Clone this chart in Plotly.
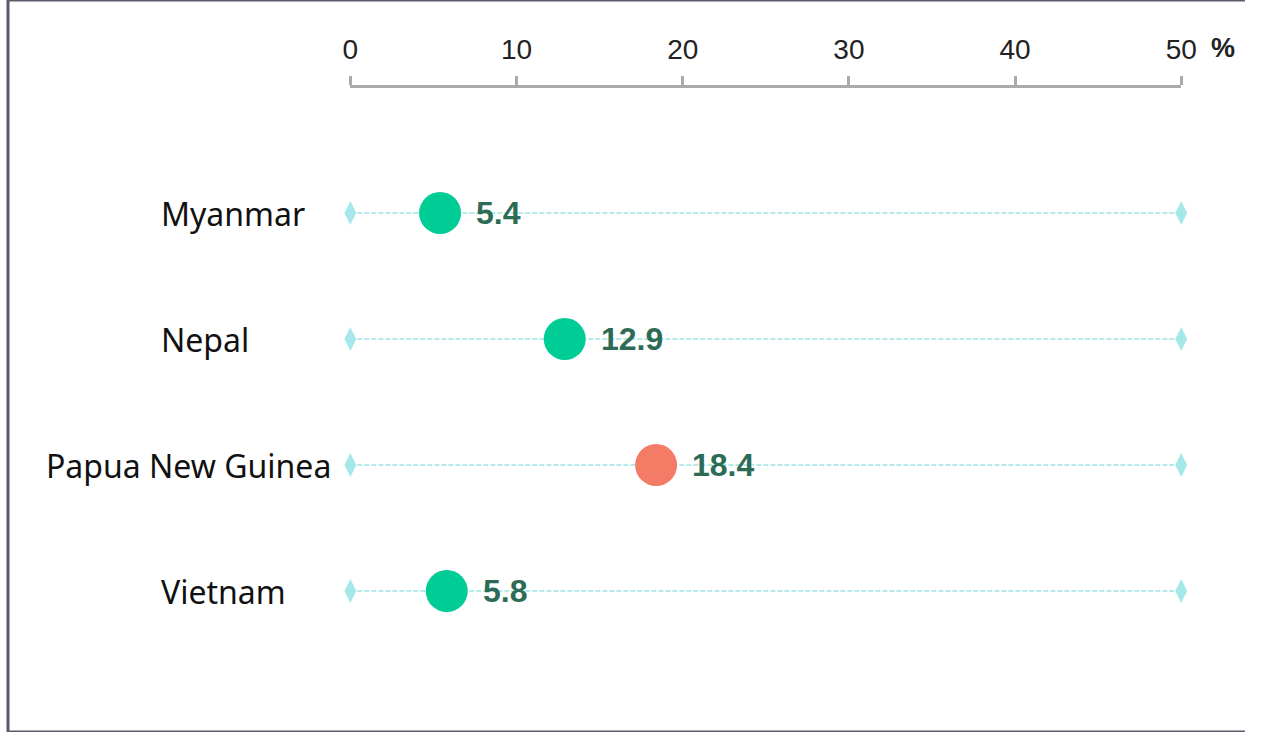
import plotly.graph_objects as go

countries = ["Myanmar", "Nepal", "Papua New Guinea", "Vietnam"]
values = [5.4, 12.9, 18.4, 5.8]
highlight = [False, False, True, False]
tick_vals = [0, 10, 20, 30, 40, 50]
x_min, x_max = 0, 50
unit = "%"

W, H = 1261, 732
GREEN = "#00cc96"
SALMON = "#f47c66"
LINE = "#9fe3e3"
VAL_COLOR = "#2e6b57"

fig = go.Figure()
ys = list(range(len(countries)))

# dashed guide lines with diamond ends
for i in ys:
    fig.add_trace(go.Scatter(
        x=[x_min, x_max], y=[i, i], mode="lines+markers", cliponaxis=False,
        line=dict(color=LINE, width=1.3, dash="5px,2px"),
        marker=dict(symbol="diamond-tall", size=17, color="#a6e8ea", line=dict(width=0)),
        hoverinfo="skip", showlegend=False))

# dots
fig.add_trace(go.Scatter(
    x=values, y=ys, mode="markers", cliponaxis=False,
    marker=dict(size=42, color=[SALMON if h else GREEN for h in highlight], line=dict(width=0)),
    showlegend=False))

# value labels
for i, v in enumerate(values):
    fig.add_annotation(x=v, y=i, xref="x", yref="y", text=f"<b>{v}</b>", showarrow=False,
                       xanchor="left", yanchor="middle", xshift=34, yshift=0,
                       font=dict(family="Liberation Sans, Arial", size=32, color=VAL_COLOR))

# category labels
for i, c in enumerate(countries):
    if len(c) > 10:
        fig.add_annotation(x=331 / W, y=i, xref="paper", yref="y", text=c, showarrow=False,
                           xanchor="right", yanchor="middle",
                           font=dict(family="Noto Sans", size=32, color="#111111"))
    else:
        fig.add_annotation(x=154 / W, y=i, xref="paper", yref="y", text=c, showarrow=False,
                           xanchor="left", yanchor="middle",
                           font=dict(family="Noto Sans", size=32, color="#111111"))

# unit label
fig.add_annotation(x=x_max, y=(H - 48) / H, xref="x", yref="paper", text=f"<b>{unit}</b>",
                   showarrow=False, xanchor="left", yanchor="middle", xshift=28,
                   font=dict(family="Liberation Sans, Arial", size=27, color="#222222"))

# border (left, top, bottom)
for x0, y0, x1, y1 in [(0, 0, 0, 1), (0, 1, 1, 1), (0, 0, 1, 0)]:
    fig.add_shape(type="line", xref="paper", yref="paper", x0=x0, y0=y0, x1=x1, y1=y1,
                  line=dict(color="#5a5a6a", width=3))

top_px, row0_px, row_gap = 88, 213, 126
y_top = 0 - (row0_px - top_px) / row_gap
y_bot = (len(countries) - 1) + (H - (row0_px + row_gap * (len(countries) - 1))) / row_gap

fig.update_layout(
    width=W, height=H, margin=dict(l=0, r=0, t=0, b=0, pad=0), autosize=False,
    paper_bgcolor="white", plot_bgcolor="white",
    xaxis=dict(range=[x_min, x_max], domain=[349 / W, 1196 / W], side="top",
               tickvals=tick_vals, showgrid=False, zeroline=False,
               showline=True, linecolor="#aaaaaa", linewidth=3,
               ticks="outside", ticklen=9, tickwidth=3, tickcolor="#aaaaaa",
               ticklabelstandoff=6,
               tickfont=dict(family="Liberation Sans, Arial", size=28, color="#222222")),
    yaxis=dict(range=[y_bot, y_top], domain=[0, (H - top_px) / H], visible=False,
               showgrid=False, zeroline=False),
    hovermode=False,
)

fig.write_html("out.html")
